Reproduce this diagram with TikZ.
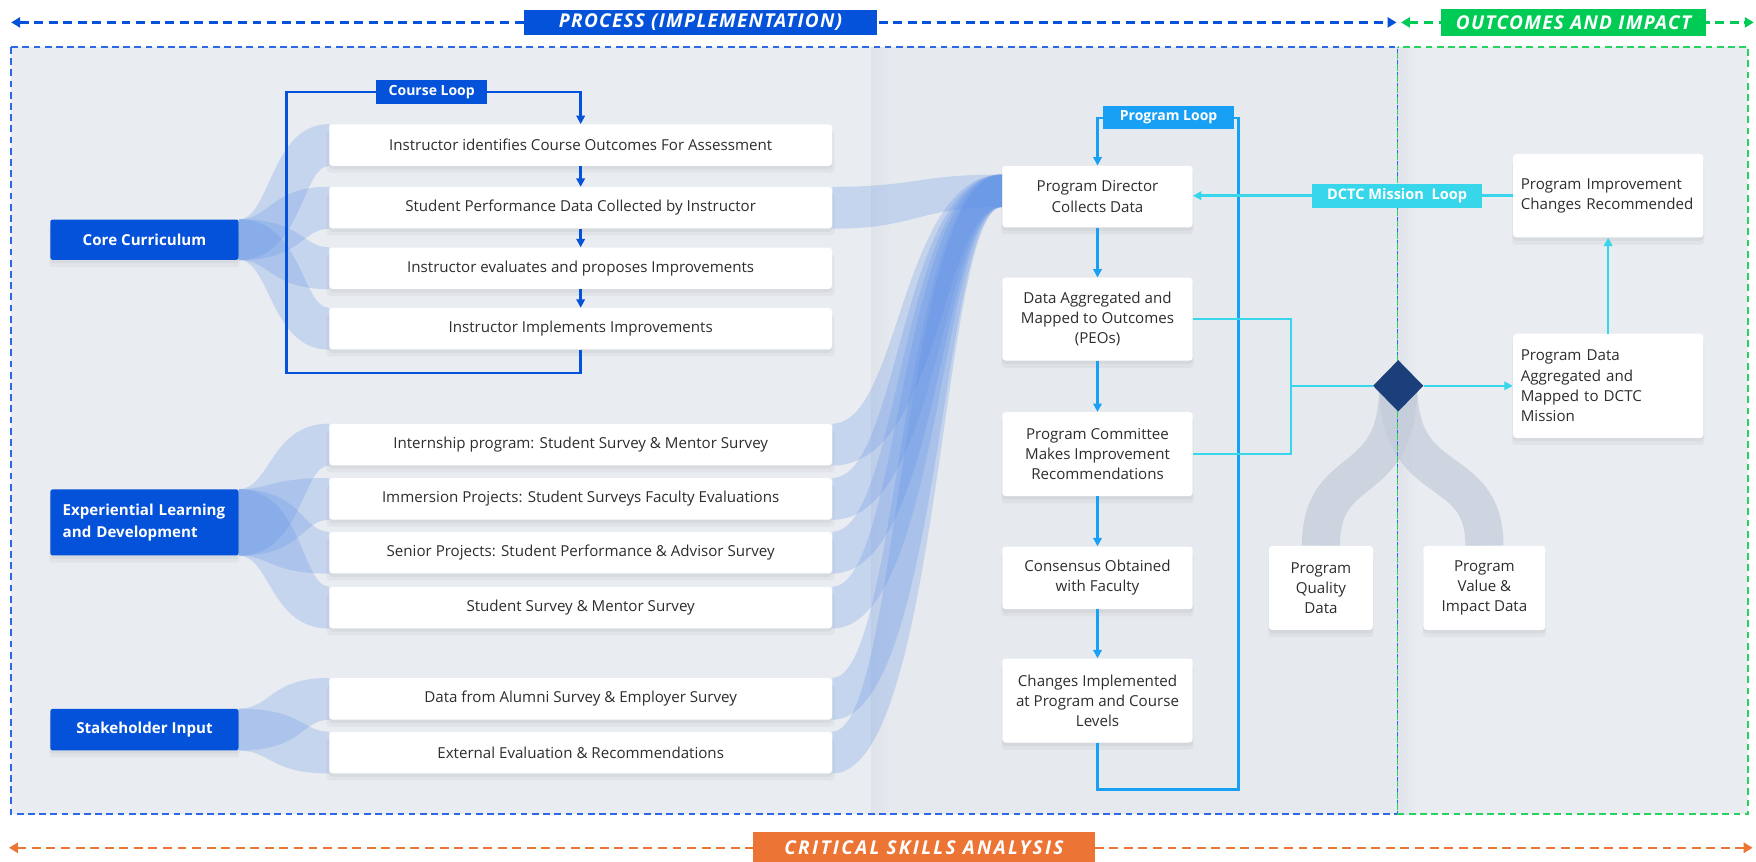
\documentclass[tikz,border=0pt]{standalone}
\usepackage{fontspec}
\setmainfont{Open Sans}
\newfontfamily\labfont{Open Sans}[LetterSpace=6.5]
\usetikzlibrary{arrows.meta,shapes.geometric,calc,shadows}
\pgfdeclarelayer{bg}
\pgfdeclarelayer{ribs}
\pgfdeclarelayer{lines}
\pgfsetlayers{bg,ribs,lines,main}

\definecolor{bgpanel}{RGB}{233,236,241}
\definecolor{bgpanel2}{RGB}{230,233,238}
\definecolor{panelshade}{RGB}{224,227,233}
\definecolor{royal}{RGB}{3,82,217}
\definecolor{dashblue}{RGB}{45,105,230}
\definecolor{sky}{RGB}{24,160,245}
\definecolor{cyanl}{RGB}{56,214,234}
\definecolor{navy}{RGB}{27,63,122}
\definecolor{greenl}{RGB}{0,204,85}
\definecolor{dashgreen}{RGB}{40,210,95}
\definecolor{orangel}{RGB}{236,116,52}
\definecolor{ribblue}{RGB}{90,142,231}
\definecolor{ribgrey}{RGB}{196,204,218}
\definecolor{txt}{RGB}{45,45,45}

% ribbon: #1 src top, #2 src bottom, #3 dst top, #4 dst bottom, #5 top factor, #6 bottom factor
\newcommand{\ribn}[6]{%
  \fill[ribblue, fill opacity=0.24] (#1) .. controls ($(#1)!#5!(#3|-#1)$) and ($(#1|-#3)!#5!(#3)$) .. (#3) -- (#4) .. controls ($(#2|-#4)!#6!(#4)$) and ($(#2)!#6!(#4|-#2)$) .. (#2) -- cycle;}

\begin{document}
\begin{tikzpicture}[x=1pt,y=-1pt,
  shad/.style={general shadow={fill=black, opacity=0.035, shadow xshift=0pt, shadow yshift=-6pt, shadow scale=1.01},
               general shadow={fill=black, opacity=0.04, shadow xshift=0pt, shadow yshift=-3pt}},
  wbox/.style={fill=white, rounded corners=3pt, align=center, text=txt, font=\fontsize{13.5}{18}\selectfont, inner sep=2pt, shad},
  rbox/.style={wbox, align=left, text width=156pt, inner xsep=7pt, inner ysep=0pt, minimum width=170pt},
  mbox/.style={wbox, minimum width=170pt},
  lbox/.style={wbox, minimum width=449pt, minimum height=37pt},
  catbox/.style={fill=royal, rounded corners=2pt, text=white, font=\bfseries\fontsize{13.5}{20}\selectfont, inner sep=0pt, minimum width=168pt, shad},
  looplab/.style={text=white, font=\bfseries\fontsize{12.5}{15}\selectfont, inner sep=0pt},
  lab/.style={text=white, font={\labfont\bfseries\itshape\fontsize{17}{20}\selectfont}, inner sep=0pt},
  arr/.style={-{Triangle[length=7.5pt,width=7.5pt]}},
  darr/.style={{Triangle[length=8pt,width=9pt]}-{Triangle[length=8pt,width=9pt]}, line width=2.2pt, dash pattern=on 8pt off 5pt},
  bline/.style={draw=royal, line width=2.2pt},
  sline/.style={draw=sky, line width=2.4pt},
  cline/.style={draw=cyanl, line width=2.2pt}
]
\useasboundingbox (0,0) rectangle (1568,769);

\begin{pgfonlayer}{bg}
\fill[white] (0,0) rectangle (1568,769);
\fill[bgpanel] (10,42) rectangle (1561,727);
\fill[bgpanel2] (778,42) rectangle (1248,727);
\shade[left color=panelshade, right color=bgpanel2] (778,42) rectangle (796,727);
\shade[left color=panelshade, right color=bgpanel] (1248,42) rectangle (1266,727);
\end{pgfonlayer}

% ---------- top and bottom bands ----------
\coordinate (tl) at (10,20);
\coordinate (tr) at (1247,20);
\coordinate (gl) at (1251,20);
\coordinate (gr) at (1566,20);
\coordinate (ol) at (8,757);
\coordinate (or) at (1565,757);
\draw[darr, draw=dashblue, color=royal] (tl) -- (tr);
\draw[darr, draw=dashgreen, color=greenl] (gl) -- (gr);
\draw[darr, draw=orangel, color=orangel] (ol) -- (or);
\node[lab, fill=royal, minimum width=315pt, minimum height=23pt] (ptitle) at (625.5,20) {PROCESS (IMPLEMENTATION)};
\node[lab, fill=greenl, minimum width=236pt, minimum height=24pt] (otitle) at (1405,20) {\addfontfeature{LetterSpace=6.8}OUTCOMES AND IMPACT};
\node[lab, fill=orangel, minimum width=306pt, minimum height=28pt] (ctitle) at (825,757) {\addfontfeature{LetterSpace=12}CRITICAL SKILLS ANALYSIS};

% ---------- left column ----------
\node[catbox, minimum height=36pt] (core) at (129,214) {Core Curriculum};
\node[catbox, minimum height=59pt, text width=146pt, align=left, inner xsep=11pt] (exp) at (129,466.5) {Experiential Learning\\and Development};
\node[catbox, minimum height=37pt] (stake) at (129,651.5) {Stakeholder Input};

\node[lbox] (c1) at (518.5,129.5) {Instructor identifies Course Outcomes For Assessment};
\node[lbox] (c2) at (518.5,185.5) {Student Performance Data Collected by Instructor};
\node[lbox] (c3) at (518.5,239.5) {Instructor evaluates and proposes Improvements};
\node[lbox] (c4) at (518.5,293.5) {Instructor Implements Improvements};

\node[lbox] (e1) at (518.5,397) {Internship program: Student Survey \& Mentor Survey};
\node[lbox] (e2) at (518.5,445.5) {Immersion Projects: Student Surveys Faculty Evaluations};
\node[lbox] (e3) at (518.5,493.5) {Senior Projects: Student Performance \& Advisor Survey};
\node[lbox] (e4) at (518.5,542.5) {Student Survey \& Mentor Survey};

\node[lbox] (s1) at (518.5,624) {Data from Alumni Survey \& Employer Survey};
\node[lbox] (s2) at (518.5,672) {External Evaluation \& Recommendations};

% ---------- middle column ----------
\node[mbox, minimum height=55pt] (pd) at (980,175.5) {Program Director\\Collects Data};
\node[mbox, minimum height=74pt] (da) at (980,285) {Data Aggregated and\\Mapped to Outcomes\\(PEOs)};
\node[mbox, minimum height=75pt] (pc) at (980,405.5) {Program Committee\\Makes Improvement\\Recommendations};
\node[mbox, minimum height=56pt] (co) at (980,516) {Consensus Obtained\\with Faculty};
\node[mbox, minimum height=75pt] (ch) at (980,625.5) {Changes Implemented\\at Program and Course\\Levels};

% ---------- right column ----------
\node[rbox, minimum height=74.5pt] (pi) at (1436,174.75) {Program Improvement\\Changes Recommended};
\node[rbox, minimum height=93pt] (pdm) at (1436,344.5) {Program Data\\Aggregated and\\Mapped to DCTC\\Mission};
\node[wbox, minimum width=93pt, minimum height=75pt] (ql) at (1179.5,525) {Program\\Quality\\Data};
\node[wbox, minimum width=109pt, minimum height=75pt] (vl) at (1325.5,525) {Program\\Value \&\\Impact Data};
\node[diamond, fill=navy, minimum width=45pt, minimum height=46pt, inner sep=0pt] (dm) at (1248.5,344.5) {};

% ---------- ribbons ----------
\coordinate (pdt) at ($(pd.north west)+(0,8)$);
\coordinate (pdb) at ($(pd.north west)+(0,37)$);
\begin{pgfonlayer}{ribs}
\foreach \b in {c1,c2}{\ribn{core.north east}{core.south east}{\b.north west}{\b.south west}{0.35}{0.7}}
\foreach \b in {c3,c4}{\ribn{core.north east}{core.south east}{\b.north west}{\b.south west}{0.7}{0.35}}
\foreach \b in {e1,e2}{\ribn{exp.north east}{exp.south east}{\b.north west}{\b.south west}{0.35}{0.7}}
\foreach \b in {e3,e4}{\ribn{exp.north east}{exp.south east}{\b.north west}{\b.south west}{0.7}{0.35}}
\ribn{stake.north east}{stake.south east}{s1.north west}{s1.south west}{0.35}{0.7}
\ribn{stake.north east}{stake.south east}{s2.north west}{s2.south west}{0.7}{0.35}
\ribn{c2.north east}{c2.south east}{pdt}{pdb}{0.5}{0.5}
\foreach \b in {e1,e2,e3,e4,s1,s2}{\ribn{\b.north east}{\b.south east}{pdt}{pdb}{0.4}{0.64}}
\draw[ribgrey, line width=34pt, draw opacity=0.7] (ql.north) .. controls ($(ql.north)+(0,-78)$) and ($(dm.center)+(0,96)$) .. (dm.center);
\draw[ribgrey, line width=34pt, draw opacity=0.7] (vl.north) .. controls ($(vl.north)+(0,-78)$) and ($(dm.center)+(0,96)$) .. (dm.center);
\end{pgfonlayer}

% ---------- dashed frames ----------
\begin{pgfonlayer}{lines}
\draw[dashblue, line width=1.4pt, dash pattern=on 6pt off 4pt] (10,42) rectangle (1248,727);
\draw[dashgreen, line width=1.4pt, dash pattern=on 6pt off 4pt, dash phase=5pt] (1248,42) rectangle (1561,727);
\end{pgfonlayer}

% ---------- course loop ----------
\coordinate (cl1) at (518.5,333);
\coordinate (cl2) at (256,333);
\coordinate (cl3) at (256,82);
\coordinate (cl4) at (518.5,82);
\draw[bline, arr] (c4.south) -- (cl1) -- (cl2) -- (cl3) -- (cl4) -- (c1.north);
\node[looplab, fill=royal, minimum width=99pt, minimum height=22pt] (cloop) at (385.5,82) {Course Loop};
\draw[bline, arr] (c1.south) -- (c2.north);
\draw[bline, arr] (c2.south) -- (c3.north);
\draw[bline, arr] (c3.south) -- (c4.north);

% ---------- program loop ----------
\coordinate (pl1) at (980,705);
\coordinate (pl2) at (1106,705);
\coordinate (pl3) at (1106,105.5);
\coordinate (pl4) at (980,105.5);
\draw[sline, arr] (ch.south) -- (pl1) -- (pl2) -- (pl3) -- (pl4) -- (pd.north);
\node[looplab, fill=sky, minimum width=117pt, minimum height=20.5pt] (ploop) at (1043.5,104.75) {Program Loop};
\draw[sline, arr] (pd.south) -- (da.north);
\draw[sline, arr] (da.south) -- (pc.north);
\draw[sline, arr] (pc.south) -- (co.north);
\draw[sline, arr] (co.south) -- (ch.north);

% ---------- DCTC mission loop ----------
\coordinate (jn) at (1153,344.5);
\draw[cline] (da.east) -| (jn) |- (pc.east);
\draw[cline] (jn) -- (dm.west);
\draw[cline, arr] (dm.east) -- (pdm.west);
\draw[cline, arr] (pdm.north) -- (pi.south);
\draw[cline, arr] (pi.west) -- (pi.west -| pd.east);
\node[looplab, fill=cyanl, minimum width=152pt, minimum height=21.5pt, font=\bfseries\fontsize{13}{15}\selectfont] (mloop) at (1247.5,174.75) {DCTC Mission~~Loop};
\end{tikzpicture}
\end{document}
